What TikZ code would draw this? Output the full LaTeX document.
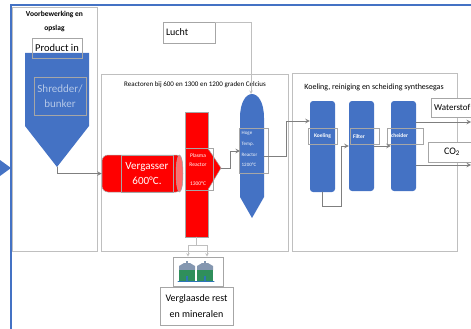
\documentclass[tikz,border=0pt]{standalone}
\usepackage{fontspec}
\setmainfont{Carlito}
\usetikzlibrary{arrows}

\definecolor{officeblue}{HTML}{4472C4}
\definecolor{paleblue}{HTML}{B4C7E7}
\definecolor{boxgray}{HTML}{BFBFBF}
\definecolor{linegray}{HTML}{A6A6A6}
\definecolor{flowgray}{HTML}{7F7F7F}
\definecolor{endred}{HTML}{FF6F6F}
\definecolor{domegray}{HTML}{8497B0}
\definecolor{tankgreen}{HTML}{2F8F5B}
\definecolor{tankblue}{HTML}{2E75B6}

\begin{document}
\begin{tikzpicture}[%
        x = 1pt,
        y = -1pt,
        line cap = round,
        > = stealth,
        section/.style = {%
            draw = boxgray,
            line width = 0.8pt,
            inner sep = 0pt
        },
        labelbox/.style = {%
            draw = linegray,
            line width = 0.6pt,
            inner sep = 0pt
        },
        textbox/.style = {%
            draw = linegray,
            fill = white,
            line width = 0.6pt,
            inner sep = 0pt,
            font = \fontsize{10}{16}\selectfont,
            align = center
        },
        column/.style = {%
            fill = officeblue,
            rounded corners = 3pt,
            inner sep = 0pt,
            minimum width = 25pt
        },
        vessel/.style = {%
            fill = red,
            draw = linegray,
            line width = 0.5pt,
            inner sep = 0pt
        },
        tinytext/.style = {%
            text = white,
            inner sep = 0pt,
            font = \fontsize{5.5}{9.5}\selectfont,
            align = center
        },
        flow/.style = {%
            draw = flowgray,
            line width = 1pt,
            ->
        },
        airline/.style = {%
            draw = boxgray,
            line width = 0.6pt,
            ->
        }
    ]

        \useasboundingbox (0, 0) rectangle (471, 329);
        \clip (0, 0) rectangle (471, 329);

        % Blue frame with the arrow coming in from the left.
        \draw[draw = officeblue, line width = 1.8pt] (11, 329) -- (11, 5) -- (471, 5);
        \fill[officeblue] (0, 160) -- (11, 168) -- (0, 176) -- cycle;

        % The three sections.
        \node[section, minimum width = 85pt, minimum height = 244pt] (prep) at (54.5, 129) {};
        \node[section, minimum width = 187pt, minimum height = 177pt] (reactors) at (194.5, 162.5) {};
        \node[section, minimum width = 165pt, minimum height = 178pt] (cleaning) at (374.5, 162) {};

        \node[font = \fontsize{7.5}{14}\selectfont\bfseries, align = center] (prepTitle) at (54.5, 22) {Voorbewerking en\\opslag};
        \node[font = \fontsize{7}{9}\selectfont] (reactorsTitle) at (195, 85) {Reactoren bij 600 en 1300 en 1200 graden Celcius};
        \node[font = \fontsize{8}{10}\selectfont] (cleaningTitle) at (374, 87) {Koeling, reiniging en scheiding synthesegas};

        % Shredder funnel.
        \fill[officeblue] (25, 53) -- (89, 53) -- (89, 126) -- (57, 167) -- (25, 126) -- cycle;
        \coordinate (funnelTip) at (57, 167);
        \node[labelbox, minimum width = 50pt, minimum height = 20pt, font = \fontsize{10.5}{12}\selectfont] (product) at (57, 48) {Product in};
        \node[labelbox, minimum width = 52pt, minimum height = 38pt, text = paleblue, align = center,
            font = \fontsize{11}{15}\selectfont] (shredder) at (60, 96) {Shredder/\\bunker};

        % Lucht.
        \node[labelbox, minimum width = 52pt, minimum height = 21pt, font = \fontsize{10}{12}\selectfont,
            text width = 46pt, align = left] (lucht) at (189, 32.5) {Lucht};

        % Vergasser.
        \node[vessel, rounded corners = 6pt, minimum width = 80pt, minimum height = 37pt] (verg) at (142, 173.5) {};
        \filldraw[fill = endred, draw = linegray, line width = 0.5pt] (179.5, 173.5) ellipse (3.5pt and 18.5pt);
        \node[labelbox, minimum width = 52pt, minimum height = 37pt, text = white, align = center,
            font = \fontsize{11}{15}\selectfont] (vergLabel) at (147, 173.5) {Vergasser\\600°C.};

        % Plasma reactor.
        \node[vessel, minimum width = 23pt, minimum height = 125pt] (plasma) at (196.5, 174.5) {};
        \fill[red] (207, 150) -- (209, 150) -- (221, 168) -- (209, 188) -- (207, 188) -- cycle;
        \draw[draw = linegray, line width = 0.5pt] (208.5, 150) -- (209, 150) -- (221, 168) -- (209, 188) -- (208.5, 188);
        \coordinate (plasmaTip) at (221, 168);
        \node[labelbox, minimum width = 28pt, minimum height = 42pt] (plasmaLabel) at (199, 169) {};
        \node[tinytext] (plasmaName) at (198, 160) {Plasma\\Reactor};
        \node[tinytext] (plasmaTemp) at (198, 184) {1300°C};

        % Hoge temperatuur reactor.
        \fill[officeblue] (240, 197) -- (240, 118) .. controls (240, 86) and (264, 86) .. (264, 118)
            -- (264, 197) -- (252, 218) -- cycle;
        \coordinate (hogeTop) at (251, 94);
        \coordinate (hogeIn) at (240, 151);
        \coordinate (hogeOut) at (264, 156);
        \node[labelbox, minimum width = 29pt, minimum height = 45pt] (hogeLabel) at (253.5, 150.5) {};
        \node[tinytext, text = white!85!paleblue, align = left, font = \fontsize{5}{10.8}\selectfont,
            anchor = north west] (hogeName) at (241.5, 131) {Hoge\\Temp.\\Reactor\\1200°C};

        % Koeling, filter en scheider.
        \node[column, minimum height = 91pt] (koeling) at (322.5, 146.5) {};
        \node[column, minimum height = 90pt] (filter) at (361.5, 146) {};
        \node[column, minimum height = 90pt] (scheider) at (403.5, 146) {};
        \node[labelbox, minimum width = 29pt, minimum height = 16pt, text = white,
            font = \fontsize{5.5}{7}\selectfont\bfseries] (koelingLabel) at (322.5, 136.5) {Koeling};
        \node[labelbox, minimum width = 29pt, minimum height = 16pt, text = white, text width = 23pt,
            font = \fontsize{5.5}{7}\selectfont\bfseries] (filterLabel) at (364.5, 136.5) {Filter};
        \node[labelbox, minimum width = 36pt, minimum height = 16pt, text = white, text width = 33pt,
            font = \fontsize{5.5}{7}\selectfont\bfseries] (scheiderLabel) at (405, 136) {Scheider};

        % Products.
        \node[textbox, minimum width = 42pt, minimum height = 19pt, font = \fontsize{9}{11}\selectfont,
            anchor = west] (waterstof) at (431, 107.5) {Waterstof};
        \node[textbox, minimum width = 48pt, minimum height = 20pt] (co2) at (452, 152) {CO\textsubscript{2}};
        \coordinate (h2Out) at (471, 122);
        \coordinate (co2Out) at (471, 165);

        % Residue tanks.
        \node[labelbox, minimum width = 50pt, minimum height = 29pt] (tanks) at (198, 271.5) {};
        \foreach \tx in {179, 197} {
            \fill[domegray] (\tx, 270) -- (\tx, 266) -- (\tx + 5, 263) -- (\tx + 11, 263)
                -- (\tx + 16, 266) -- (\tx + 16, 270) -- cycle;
            \fill[domegray] (\tx + 7, 261) rectangle (\tx + 9, 263);
            \fill[tankgreen] (\tx, 270) rectangle (\tx + 16, 281);
            \fill[tankblue] (\tx + 7, 276) rectangle (\tx + 9, 281);
            \draw[draw = tankblue, line width = 1pt] (\tx - 1, 281.5) -- (\tx + 17, 281.5);
        }
        \node[textbox, minimum width = 73pt, minimum height = 38pt] (rest) at (196.5, 306) {Verglaasde rest\\en mineralen};

        % Connectors.
        \draw[flow] (funnelTip) |- (verg.west);
        \draw[flow] (plasmaTip) -- ++(9, 0) |- (hogeIn);
        \draw[airline] ([yshift = -1pt]lucht.north east) -| (hogeTop);
        \draw[flow] (hogeOut) -- ++(22, 0) |- ([yshift = 25.5pt]koeling.west);
        \draw[flow] (koeling.south) -- ++(0, 14) -| ([xshift = -7pt]filter.west) -- (filter.west);
        \draw[flow] (filter.east) -- (scheider.west);
        \draw[flow] ([yshift = 24pt]scheider.east) -- (h2Out);
        \draw[flow] ([yshift = -19pt]scheider.east) -- (co2Out);
        \draw[airline] (plasma.south) -- ++(0, 8) -| ([xshift = -10pt]tanks.north);
        \draw[airline] (plasma.south) -- ++(0, 8) -| ([xshift = 9pt]tanks.north);
    \end{tikzpicture}
\end{document}
